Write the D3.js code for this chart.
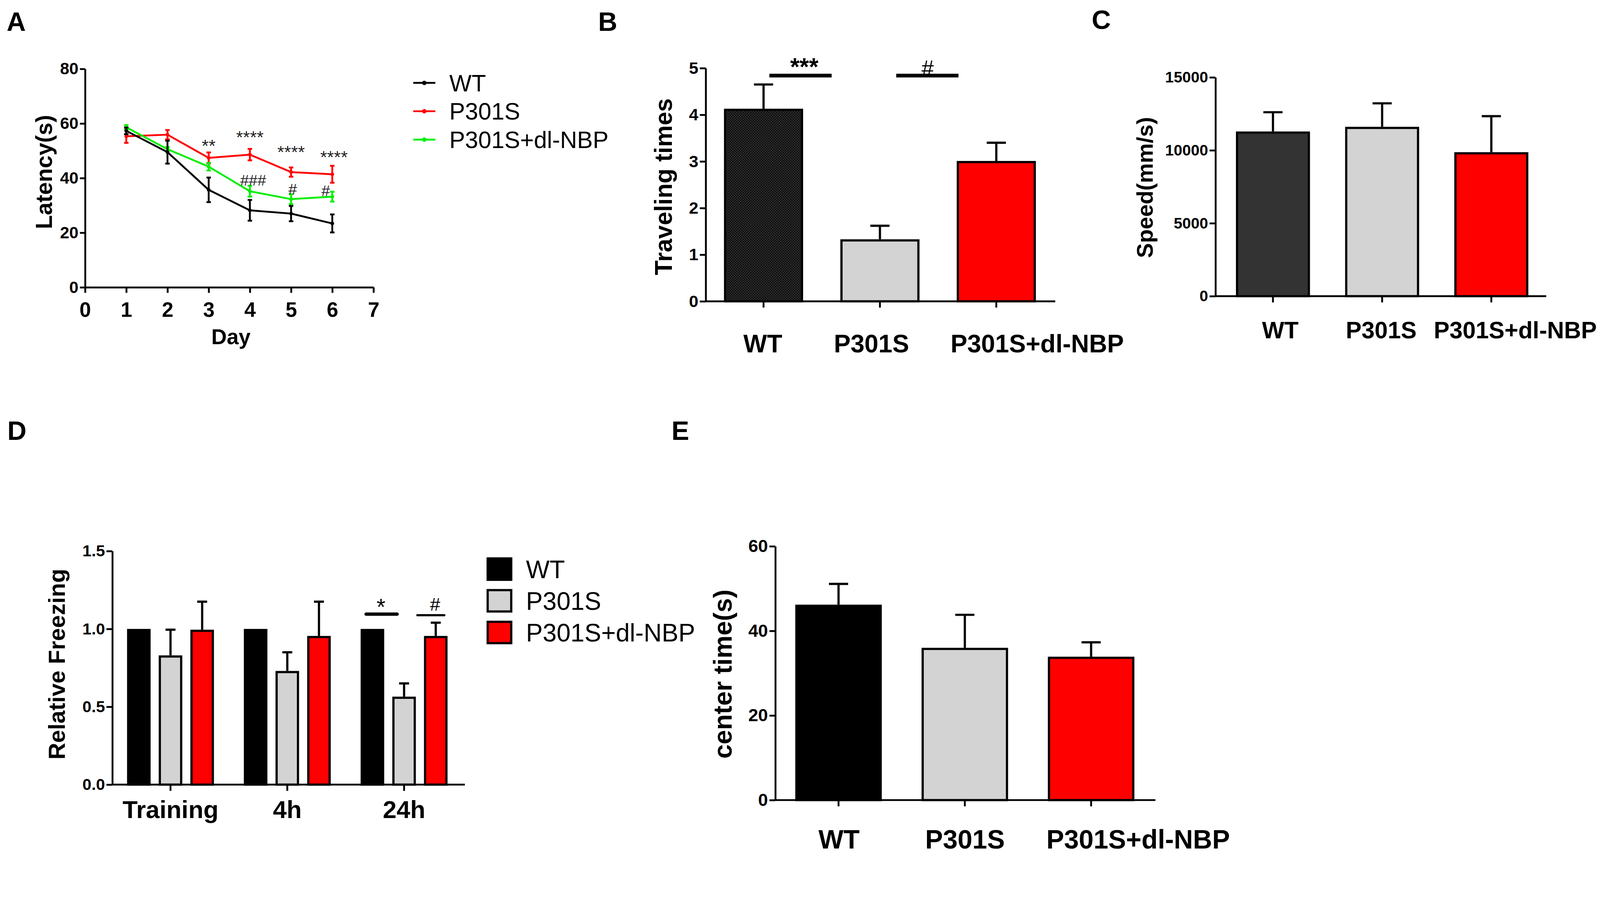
<!DOCTYPE html>
<html>
<head>
<meta charset="utf-8">
<script src="https://cdn.jsdelivr.net/npm/d3@7"></script>
<style>
	html, body { margin: 0; padding: 0; background: #ffffff; width: 100%; height: 100%; overflow: hidden; }
	#chart { width: 100vw; height: 100vh; }
	svg { display: block; }
</style>
</head>
<body>
<div id="chart"></div>
<script>
"use strict";

// =============== DATA ===============
// A - latency per training day (mean, SEM)
var days = [1, 2, 3, 4, 5, 6];
var dayTicks = [0, 1, 2, 3, 4, 5, 6, 7];
var latencyTicks = [0, 20, 40, 60, 80];
var latencyWT = [57.3, 49.5, 35.7, 28.2, 27.0, 23.4];
var latencyWTErr = [1.2, 4.2, 4.5, 3.8, 2.8, 3.3];
var latencyP301S = [55.3, 55.9, 47.4, 48.6, 42.2, 41.4];
var latencyP301SErr = [2.4, 1.7, 2.0, 2.1, 1.7, 3.1];
var latencyNBP = [58.6, 50.6, 44.2, 35.2, 32.3, 33.2];
var latencyNBPErr = [0.8, 0.8, 1.4, 2.0, 1.8, 1.8];
// significance marks on A (day, latency where the text sits, text)
var starDays = [3, 4, 5, 6.04];
var starLevels = [49.6, 52.7, 47.3, 45.4];
var starTexts = ["**", "****", "****", "****"];
var hashDays = [4.08, 5.04, 5.84];
var hashLevels = [37.3, 34.0, 33.4];
var hashTexts = ["###", "#", "#"];

// groups shared by B, C, E and the D legend
var groups = ["WT", "P301S", "P301S+dl-NBP"];

// B - traveling times
var travelMean = [4.13, 1.33, 3.01];
var travelErr = [0.52, 0.29, 0.39];
var travelTicks = [0, 1, 2, 3, 4, 5];

// C - speed
var speedMean = [11290, 11610, 9870];
var speedErr = [1320, 1610, 2470];
var speedTicks = [0, 5000, 10000, 15000];

// D - relative freezing
var sessions = ["Training", "4h", "24h"];
var freezeWT = [1.0, 1.0, 1.0];
var freezeWTErr = [0, 0, 0];
var freezeP301S = [0.83, 0.73, 0.565];
var freezeP301SErr = [0.165, 0.12, 0.085];
var freezeNBP = [0.995, 0.955, 0.955];
var freezeNBPErr = [0.18, 0.22, 0.085];
var freezeTicks = [0, 0.5, 1.0, 1.5];

// E - center time
var centerMean = [46.2, 36.0, 33.9];
var centerErr = [4.9, 7.8, 3.4];
var centerTicks = [0, 20, 40, 60];

// =============== STYLE ===============
var FONT = "'Liberation Sans', Arial, Helvetica, sans-serif";
var W = 4344, H = 2314;
var lineColors = ["#000000", "#ff0000", "#00ee00"];
var barStroke = 6;
var axisStroke = 5;

// drawn in a fixed 4344x2314 frame, scaled to the viewport, pinned top-left
var svg = d3.select("#chart").append("svg")
	.attr("viewBox", "0 0 " + W + " " + H)
	.attr("preserveAspectRatio", "xMinYMin meet")
	.attr("width", "100%")
	.attr("height", "100%")
	.style("font-family", FONT);

svg.append("rect")
	.attr("width", W)
	.attr("height", H)
	.attr("fill", "#ffffff");

// dotted dark fill of the WT bar in B
var pat = svg.append("defs").append("pattern")
	.attr("id", "dots")
	.attr("width", 7)
	.attr("height", 7)
	.attr("patternUnits", "userSpaceOnUse");
pat.append("rect").attr("width", 7).attr("height", 7).attr("fill", "#101010");
pat.append("circle").attr("cx", 1.75).attr("cy", 1.75).attr("r", 1.3).attr("fill", "#4e4e4e");
pat.append("circle").attr("cx", 5.25).attr("cy", 5.25).attr("r", 1.3).attr("fill", "#4e4e4e");

// =============== HELPERS ===============
function styleAxis(g, fontSize){
	g.attr("font-family", FONT).attr("font-size", fontSize);
	g.select(".domain")
		.attr("stroke", "#000")
		.attr("stroke-width", axisStroke);
	g.selectAll(".tick line")
		.attr("stroke", "#000")
		.attr("stroke-width", axisStroke);
	g.selectAll(".tick text")
		.attr("fill", "#000")
		.style("font-weight", "bold");
}

function addText(x, y, txt, size, weight, anchor){
	return svg.append("text")
		.attr("x", x)
		.attr("y", y)
		.attr("text-anchor", anchor || "middle")
		.style("font-size", size + "px")
		.style("font-weight", weight)
		.attr("fill", "#000")
		.text(txt);
}

function addYLabel(x, y, txt, size){
	svg.append("text")
		.attr("transform", "translate(" + x + "," + y + ") rotate(-90)")
		.attr("text-anchor", "middle")
		.style("font-size", size + "px")
		.style("font-weight", "bold")
		.text(txt);
}

function errorBar(g, cx, yTop, yEnd, capW, color, width){
	g.append("line")
		.attr("x1", cx).attr("x2", cx)
		.attr("y1", yTop).attr("y2", yEnd)
		.attr("stroke", color).attr("stroke-width", width);
	g.append("line")
		.attr("x1", cx - capW / 2).attr("x2", cx + capW / 2)
		.attr("y1", yEnd).attr("y2", yEnd)
		.attr("stroke", color).attr("stroke-width", width);
}

// =============== PANEL A : line chart ===============
function drawLatency(){
	var x = d3.scaleLinear().domain([0, 7]).range([231, 1014]);
	var y = d3.scaleLinear().domain([0, 80]).range([780, 187]);
	var g = svg.append("g");

	var ya = g.append("g").attr("transform", "translate(231,0)")
		.call(d3.axisLeft(y).tickValues(latencyTicks).tickFormat(d3.format("d"))
			.tickSize(14).tickPadding(4).tickSizeOuter(0));
	styleAxis(ya, 45);

	var xa = g.append("g").attr("transform", "translate(0,780)")
		.call(d3.axisBottom(x).tickValues(dayTicks).tickFormat(d3.format("d"))
			.tickSize(15).tickPadding(25).tickSizeOuter(0));
	styleAxis(xa, 56);

	var series = [
		{name: groups[1], mean: latencyP301S, err: latencyP301SErr, color: lineColors[1]},
		{name: groups[2], mean: latencyNBP, err: latencyNBPErr, color: lineColors[2]},
		{name: groups[0], mean: latencyWT, err: latencyWTErr, color: lineColors[0]}
	];

	var line = d3.line()
		.x(function(d){ return x(d.day); })
		.y(function(d){ return y(d.v); });

	series.forEach(function(s){
		var pts = days.map(function(d, i){ return {day: d, v: s.mean[i], e: s.err[i]}; });
		var sg = g.append("g");
		pts.forEach(function(p){
			var cx = x(p.day);
			errorBar(sg, cx, y(p.v - p.e), y(p.v + p.e), 12, s.color, 5);
			sg.append("line").attr("x1", cx - 6).attr("x2", cx + 6)
				.attr("y1", y(p.v - p.e)).attr("y2", y(p.v - p.e))
				.attr("stroke", s.color).attr("stroke-width", 5);
		});
		sg.append("path")
			.datum(pts)
			.attr("d", line)
			.attr("fill", "none")
			.attr("stroke", s.color)
			.attr("stroke-width", 5);
		sg.selectAll("circle").data(pts).enter().append("circle")
			.attr("cx", function(d){ return x(d.day); })
			.attr("cy", function(d){ return y(d.v); })
			.attr("r", 5)
			.attr("fill", s.color);
	});

	// significance marks
	starDays.forEach(function(d, i){
		addText(x(d), y(starLevels[i]), starTexts[i], 48, "normal").attr("fill", "#222");
	});
	hashDays.forEach(function(d, i){
		addText(x(d), y(hashLevels[i]), hashTexts[i], 42, "normal").attr("fill", "#222");
	});

	addYLabel(141, 467, "Latency(s)", 62);
	addText(627, 934, "Day", 58, "bold");

	// legend
	groups.forEach(function(name, i){
		var ly = 225 + i * 77;
		g.append("line")
			.attr("x1", 1122).attr("x2", 1182)
			.attr("y1", ly).attr("y2", ly)
			.attr("stroke", lineColors[i]).attr("stroke-width", 5);
		g.append("circle")
			.attr("cx", 1152).attr("cy", ly).attr("r", 6)
			.attr("fill", lineColors[i]);
		addText(1220, ly, name, 64, "normal", "start").attr("dy", "0.36em");
	});
}

// =============== PANELS B, C, E : simple bar charts ===============
function drawBarPanel(cfg){
	var g = svg.append("g");
	var x = d3.scaleBand().domain(groups).range(cfg.xRange)
		.paddingInner(cfg.padIn).paddingOuter(cfg.padOut);
	var y = d3.scaleLinear().domain(cfg.yDomain).range(cfg.yRange);
	var x0 = cfg.xRange[0];
	var yBase = y(0);

	var ya = g.append("g").attr("transform", "translate(" + x0 + ",0)")
		.call(d3.axisLeft(y).tickValues(cfg.yTicks).tickFormat(cfg.yFormat)
			.tickSize(16).tickPadding(4).tickSizeOuter(0));
	styleAxis(ya, cfg.tickFont);

	var xa = g.append("g").attr("transform", "translate(0," + yBase + ")")
		.call(d3.axisBottom(x).tickSize(17).tickFormat("").tickSizeOuter(0));
	xa.select(".domain").remove();
	styleAxis(xa, 10);
	g.append("line")
		.attr("x1", x0).attr("x2", cfg.xEnd)
		.attr("y1", yBase).attr("y2", yBase)
		.attr("stroke", "#000").attr("stroke-width", axisStroke);

	var rows = groups.map(function(c, i){
		return {cat: c, mean: cfg.means[i], err: cfg.errs[i], fill: cfg.fills[i]};
	});

	rows.forEach(function(r){
		var cx = x(r.cat) + x.bandwidth() / 2;
		errorBar(g, cx, y(r.mean), y(r.mean + r.err), cfg.capW, "#000", 6);
	});

	g.selectAll("rect.bar").data(rows).enter().append("rect")
		.attr("class", "bar")
		.attr("x", function(d){ return x(d.cat) + barStroke / 2; })
		.attr("width", x.bandwidth() - barStroke)
		.attr("y", function(d){ return y(d.mean) + barStroke / 2; })
		.attr("height", function(d){ return yBase - y(d.mean) - barStroke / 2; })
		.attr("fill", function(d){ return d.fill; })
		.attr("stroke", "#000")
		.attr("stroke-width", barStroke);

	groups.forEach(function(c, i){
		addText(cfg.labelX[i], cfg.labelY, c, cfg.labelFont, "bold");
	});
	addYLabel(cfg.yLabelX, cfg.yLabelY, cfg.yLabel, cfg.yLabelFont);

	return {x: x, y: y, g: g};
}

// =============== PANEL D : grouped bar chart ===============
function drawFreezing(){
	var g = svg.append("g");
	var x = d3.scaleBand().domain(sessions).range([305, 1255]).paddingInner(0.256).paddingOuter(0.126);
	var xs = d3.scaleBand().domain(groups).range([0, x.bandwidth()]).paddingInner(0.256).paddingOuter(0);
	var y = d3.scaleLinear().domain([0, 1.5]).range([2130, 1496]);
	var yBase = y(0);

	var ya = g.append("g").attr("transform", "translate(305,0)")
		.call(d3.axisLeft(y).tickValues(freezeTicks).tickFormat(d3.format(".1f"))
			.tickSize(16).tickPadding(4).tickSizeOuter(0));
	styleAxis(ya, 44);

	var xa = g.append("g").attr("transform", "translate(0," + yBase + ")")
		.call(d3.axisBottom(x).tickSize(17).tickPadding(26).tickSizeOuter(0));
	xa.select(".domain").remove();
	styleAxis(xa, 67);
	g.append("line")
		.attr("x1", 305).attr("x2", 1262)
		.attr("y1", yBase).attr("y2", yBase)
		.attr("stroke", "#000").attr("stroke-width", axisStroke);

	var means = [freezeWT, freezeP301S, freezeNBP];
	var errs = [freezeWTErr, freezeP301SErr, freezeNBPErr];
	var fills = ["#000000", "#d3d3d3", "#ff0000"];

	var rows = [];
	sessions.forEach(function(s, si){
		groups.forEach(function(gr, gi){
			rows.push({session: s, group: gr, mean: means[gi][si], err: errs[gi][si], fill: fills[gi]});
		});
	});

	rows.forEach(function(r){
		if(r.err > 0){
			var cx = x(r.session) + xs(r.group) + xs.bandwidth() / 2;
			errorBar(g, cx, y(r.mean), y(r.mean + r.err), 27, "#000", 6);
		}
	});

	g.selectAll("rect.bar").data(rows).enter().append("rect")
		.attr("class", "bar")
		.attr("x", function(d){ return x(d.session) + xs(d.group) + barStroke / 2; })
		.attr("width", xs.bandwidth() - barStroke)
		.attr("y", function(d){ return y(d.mean) + barStroke / 2; })
		.attr("height", function(d){ return yBase - y(d.mean) - barStroke / 2; })
		.attr("fill", function(d){ return d.fill; })
		.attr("stroke", "#000")
		.attr("stroke-width", barStroke);

	// significance on 24h
	var c24 = x("24h");
	var step = xs.step();
	var wtC = c24 + xs("WT") + xs.bandwidth() / 2;
	g.append("line")
		.attr("x1", wtC - 0.2 * step).attr("x2", wtC + 0.78 * step)
		.attr("y1", y(1.095)).attr("y2", y(1.095))
		.attr("stroke", "#000").attr("stroke-width", 9).attr("stroke-linecap", "round");
	addText(wtC + 0.27 * step, y(1.095) + 2, "*", 62, "normal");
	g.append("line")
		.attr("x1", wtC + 1.42 * step).attr("x2", wtC + 2.27 * step)
		.attr("y1", y(1.088)).attr("y2", y(1.088))
		.attr("stroke", "#000").attr("stroke-width", 6).attr("stroke-linecap", "round");
	addText(wtC + 1.98 * step, y(1.088) - 12, "#", 50, "normal");

	addYLabel(176, 1803, "Relative Freezing", 63);

	// legend
	groups.forEach(function(name, i){
		var top = 1516 + i * 86;
		g.append("rect")
			.attr("x", 1324).attr("y", top)
			.attr("width", 64).attr("height", 58)
			.attr("fill", fills[i])
			.attr("stroke", "#000").attr("stroke-width", 6);
		addText(1428, top + 29, name, 68, "normal", "start").attr("dy", "0.36em");
	});
}

// =============== RENDER ===============
drawLatency();

var panelB = drawBarPanel({
	xRange: [1916, 2862], padIn: 0.32, padOut: 0.157, xEnd: 2865,
	yDomain: [0, 5], yRange: [818, 185], yTicks: travelTicks, yFormat: d3.format("d"),
	tickFont: 46, means: travelMean, errs: travelErr,
	fills: ["url(#dots)", "#d3d3d3", "#ff0000"], capW: 52,
	labelX: [2071, 2366, 2816], labelY: 957, labelFont: 68,
	yLabel: "Traveling times", yLabelX: 1824, yLabelY: 507, yLabelFont: 66
});
// significance lines of B, placed along the category axis
(function(){
	var x = panelB.x, y = panelB.y, g = panelB.g;
	var c0 = x(groups[0]) + x.bandwidth() / 2;
	var step = x.step();
	g.append("line")
		.attr("x1", c0 + 0.05 * step).attr("x2", c0 + 0.585 * step)
		.attr("y1", y(4.84)).attr("y2", y(4.84))
		.attr("stroke", "#000").attr("stroke-width", 10);
	addText(c0 + 0.35 * step, y(4.84) - 2, "***", 66, "bold");
	g.append("line")
		.attr("x1", c0 + 1.14 * step).attr("x2", c0 + 1.675 * step)
		.attr("y1", y(4.84)).attr("y2", y(4.84))
		.attr("stroke", "#000").attr("stroke-width", 10);
	addText(c0 + 1.41 * step, y(4.84) + 2, "#", 60, "normal");
})();

drawBarPanel({
	xRange: [3300, 4205], padIn: 0.322, padOut: 0.1875, xEnd: 4198,
	yDomain: [0, 15000], yRange: [804, 210], yTicks: speedTicks, yFormat: d3.format("d"),
	tickFont: 42, means: speedMean, errs: speedErr,
	fills: ["#333333", "#d3d3d3", "#ff0000"], capW: 52,
	labelX: [3476, 3750, 4114], labelY: 918, labelFont: 64,
	yLabel: "Speed(mm/s)", yLabelX: 3130, yLabelY: 509, yLabelFont: 61
});

drawFreezing();

drawBarPanel({
	xRange: [2105, 3134], padIn: 0.315, padOut: 0.158, xEnd: 3137,
	yDomain: [0, 60], yRange: [2172, 1483], yTicks: centerTicks, yFormat: d3.format("d"),
	tickFont: 48, means: centerMean, errs: centerErr,
	fills: ["#000000", "#d3d3d3", "#ff0000"], capW: 52,
	labelX: [2278, 2620, 3090], labelY: 2304, labelFont: 72,
	yLabel: "center time(s)", yLabelX: 1986, yLabelY: 1830, yLabelFont: 70
});

// panel letters
addText(18, 84, "A", 72, "bold", "start");
addText(1624, 84, "B", 72, "bold", "start");
addText(2964, 78, "C", 72, "bold", "start");
addText(20, 1194, "D", 72, "bold", "start");
addText(1823, 1194, "E", 72, "bold", "start");
</script>
</body>
</html>
